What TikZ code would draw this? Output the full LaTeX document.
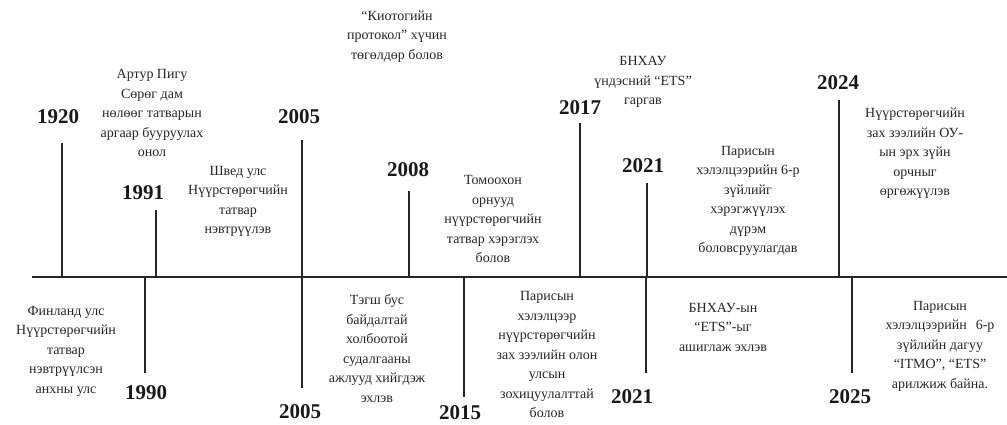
\documentclass[tikz,border=0pt]{standalone}
\usepackage{fontspec}
\setmainfont{Liberation Serif}
\begin{document}
\begin{tikzpicture}[x=1pt,y=-1pt,
  yearlbl/.style={font=\fontsize{21}{24}\selectfont\bfseries, inner sep=0pt, text=black!90},
  evt/.style={font=\fontsize{14}{19.5}\selectfont, align=center, inner sep=0pt, text=black!85},
  tick/.style={line width=1.6pt, draw=black!85},
  axisline/.style={line width=1.8pt, draw=black!85}]
\useasboundingbox (0,0) rectangle (1007,424);
% axis
\coordinate (a0) at (32,277);
\coordinate (a1) at (1007,277);
\draw[axisline] (a0) -- (a1);
% up ticks
\foreach \n/\x/\y in {u1920/62/143, u1991/156/210, u2005/302/140, u2008/409/191, u2017/580/123, u2021/647/183, u2024/839/100}{
  \coordinate (\n b) at (\x,277);
  \coordinate (\n e) at (\x,\y);
  \draw[tick] (\n b) -- (\n e);
}
% down ticks
\foreach \n/\x/\y in {d1990/145/373, d2005/302/388, d2015/464/397, d2021/646/373, d2025/852/373}{
  \coordinate (\n b) at (\x,277);
  \coordinate (\n e) at (\x,\y);
  \draw[tick] (\n b) -- (\n e);
}
% years
\node[yearlbl] (y1920) at (58,117) {1920};
\node[yearlbl] (y1991) at (143,193) {1991};
\node[yearlbl] (y2005a) at (299,117) {2005};
\node[yearlbl] (y2008) at (408,170) {2008};
\node[yearlbl] (y2017) at (580,108) {2017};
\node[yearlbl] (y2021a) at (643,166) {2021};
\node[yearlbl] (y2024) at (838,83) {2024};
\node[yearlbl] (y1990) at (146,393) {1990};
\node[yearlbl] (y2005b) at (300,412) {2005};
\node[yearlbl] (y2015) at (460,413) {2015};
\node[yearlbl] (y2021b) at (632,397) {2021};
\node[yearlbl] (y2025) at (850,397) {2025};
% events above
\node[evt] (e1) at (152,113) {Артур Пигу\\Сөрөг дам\\нөлөөг татварын\\аргаар бууруулах\\онол};
\node[evt] (e2) at (238,201.5) {Швед улс\\Нүүрстөрөгчийн\\татвар\\нэвтрүүлэв};
\node[evt] (e3) at (397,36.5) {“Киотогийн\\протокол” хүчин\\төгөлдөр болов};
\node[evt] (e4) at (493,219) {Томоохон\\орнууд\\нүүрстөрөгчийн\\татвар хэрэглэх\\болов};
\node[evt] (e5) at (643,82) {БНХАУ\\үндэсний “ETS”\\гаргав};
\node[evt] (e6) at (748,201) {Парисын\\хэлэлцээрийн 6-р\\зүйлийг\\хэрэгжүүлэх\\дүрэм\\боловсруулагдав};
\node[evt] (e7) at (915,153.5) {Нүүрстөрөгчийн\\зах зээлийн ОУ-\\ын эрх зүйн\\орчныг\\өргөжүүлэв};
% events below
\node[evt] (f1) at (66,351) {Финланд улс\\Нүүрстөрөгчийн\\татвар\\нэвтрүүлсэн\\анхны улс};
\node[evt] (f2) at (377,348.5) {Тэгш бус\\байдалтай\\холбоотой\\судалгааны\\ажлууд хийгдэж\\эхлэв};
\node[evt] (f3) at (547,354.5) {Парисын\\хэлэлцээр\\нүүрстөрөгчийн\\зах зээлийн олон\\улсын\\зохицуулалттай\\болов};
\node[evt] (f4) at (723,327) {БНХАУ-ын\\“ETS”-ыг\\ашиглаж эхлэв};
\node[evt] (f5) at (940,346) {Парисын\\хэлэлцээрийн\hspace{9pt}6-р\\зүйлийн дагуу\\“ITMO”, “ETS”\\арилжиж байна.};
\end{tikzpicture}
\end{document}
